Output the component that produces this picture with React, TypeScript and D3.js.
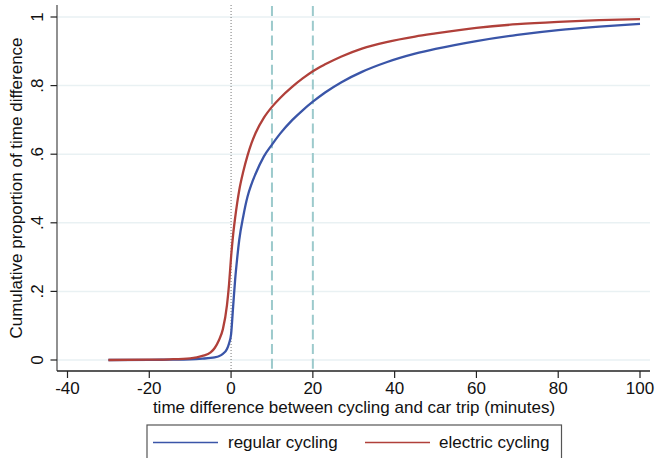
import React from "react";
import * as d3 from "d3";

const xGrid = [-30, -20, -15, -10, -7, -5, -4, -3, -2, -1, -0.5, 0, 0.5, 1, 1.5, 2, 3, 4, 5, 6, 8, 10, 12, 15, 17.5, 20, 23, 27, 32, 38, 45, 50, 60, 70, 80, 90, 100];
const regularCycling = [0, 0.0005, 0.001, 0.002, 0.004, 0.006, 0.008, 0.011, 0.018, 0.032, 0.048, 0.075, 0.155, 0.235, 0.297, 0.35, 0.42, 0.475, 0.513, 0.543, 0.593, 0.628, 0.66, 0.7, 0.728, 0.753, 0.78, 0.81, 0.84, 0.868, 0.893, 0.907, 0.93, 0.948, 0.962, 0.972, 0.98];
const electricCycling = [0, 0.001, 0.002, 0.005, 0.012, 0.022, 0.035, 0.057, 0.09, 0.16, 0.22, 0.3, 0.365, 0.415, 0.458, 0.495, 0.55, 0.595, 0.632, 0.662, 0.706, 0.738, 0.764, 0.797, 0.821, 0.842, 0.862, 0.885, 0.908, 0.927, 0.943, 0.952, 0.968, 0.979, 0.986, 0.991, 0.994];
const xTicks = [-40, -20, 0, 20, 40, 60, 80, 100];
const yTicks = [0, 0.2, 0.4, 0.6, 0.8, 1];
const yTickLabels = ["0", ".2", ".4", ".6", ".8", "1"];
const refLines = [10, 20];
const seriesNames = ["regular cycling", "electric cycling"];
const seriesColors = ["#3a55a8", "#b0403a"];

const W = 656;
const H = 458;
const FONT = "'Liberation Sans', Arial, sans-serif";

export default function App() {
  const x = d3.scaleLinear().domain([-40, 100]).range([67.5, 640]);
  const y = d3.scaleLinear().domain([0, 1]).range([360, 17]);
  const plotLeft = 57;
  const plotRight = 650;
  const plotTop = 5;
  const plotBottom = 371;

  const line = d3
    .line<[number, number]>()
    .x((d) => x(d[0]))
    .y((d) => y(d[1]))
    .curve(d3.curveMonotoneX);

  const series = [regularCycling, electricCycling].map((vals) =>
    xGrid.map((xv, i) => [xv, vals[i]] as [number, number])
  );

  return (
    <svg
      width={W}
      height={H}
      style={{ position: "absolute", left: 0, top: 0, background: "#fff" }}
      fontFamily={FONT}
    >
      <rect x={0} y={0} width={W} height={H} fill="#fff" />
      {yTicks.map((t) => (
        <line key={"g" + t} x1={plotLeft} x2={plotRight} y1={y(t)} y2={y(t)} stroke="#e9f1f3" strokeWidth={1.5} />
      ))}
      <line x1={x(0)} x2={x(0)} y1={plotTop} y2={plotBottom} stroke="#777" strokeWidth={1} strokeDasharray="1,2" />
      {refLines.map((r) => (
        <line key={"r" + r} x1={x(r)} x2={x(r)} y1={plotTop + 1} y2={plotBottom} stroke="#9ccacc" strokeWidth={2} strokeDasharray="10,4.7" />
      ))}
      {series.map((s, i) => (
        <path key={"s" + i} d={line(s) || ""} fill="none" stroke={seriesColors[i]} strokeWidth={2.3} />
      ))}
      <line x1={plotLeft} x2={plotLeft} y1={plotTop} y2={plotBottom} stroke="#555" strokeWidth={1.3} />
      <line x1={plotLeft} x2={plotRight} y1={plotBottom} y2={plotBottom} stroke="#222" strokeWidth={1.3} />
      {yTicks.map((t, i) => (
        <g key={"yt" + t}>
          <line x1={50.5} x2={plotLeft} y1={y(t)} y2={y(t)} stroke="#222" strokeWidth={1.2} />
          <text
            transform={`translate(43,${y(t)}) rotate(-90)`}
            textAnchor="middle"
            fontSize={17}
            fill="#111"
          >
            {yTickLabels[i]}
          </text>
        </g>
      ))}
      {xTicks.map((t) => (
        <g key={"xt" + t}>
          <line x1={x(t)} x2={x(t)} y1={plotBottom} y2={378} stroke="#222" strokeWidth={1.2} />
          <text x={x(t)} y={393.5} textAnchor="middle" fontSize={17} fill="#111">
            {t}
          </text>
        </g>
      ))}
      <text x={354} y={413} textAnchor="middle" fontSize={17} fill="#111">
        time difference between cycling and car trip (minutes)
      </text>
      <text transform={`translate(22,188) rotate(-90)`} textAnchor="middle" fontSize={17} fill="#111">
        Cumulative proportion of time difference
      </text>
      <rect x={147} y={425} width={414.5} height={50} fill="#fff" stroke="#555" strokeWidth={1.2} />
      <line x1={153} x2={218} y1={442.5} y2={442.5} stroke={seriesColors[0]} strokeWidth={1.5} />
      <text x={228} y={448} fontSize={17} fill="#111">{seriesNames[0]}</text>
      <line x1={365} x2={430} y1={442.5} y2={442.5} stroke={seriesColors[1]} strokeWidth={1.5} />
      <text x={439} y={448} fontSize={17} fill="#111">{seriesNames[1]}</text>
    </svg>
  );
}
